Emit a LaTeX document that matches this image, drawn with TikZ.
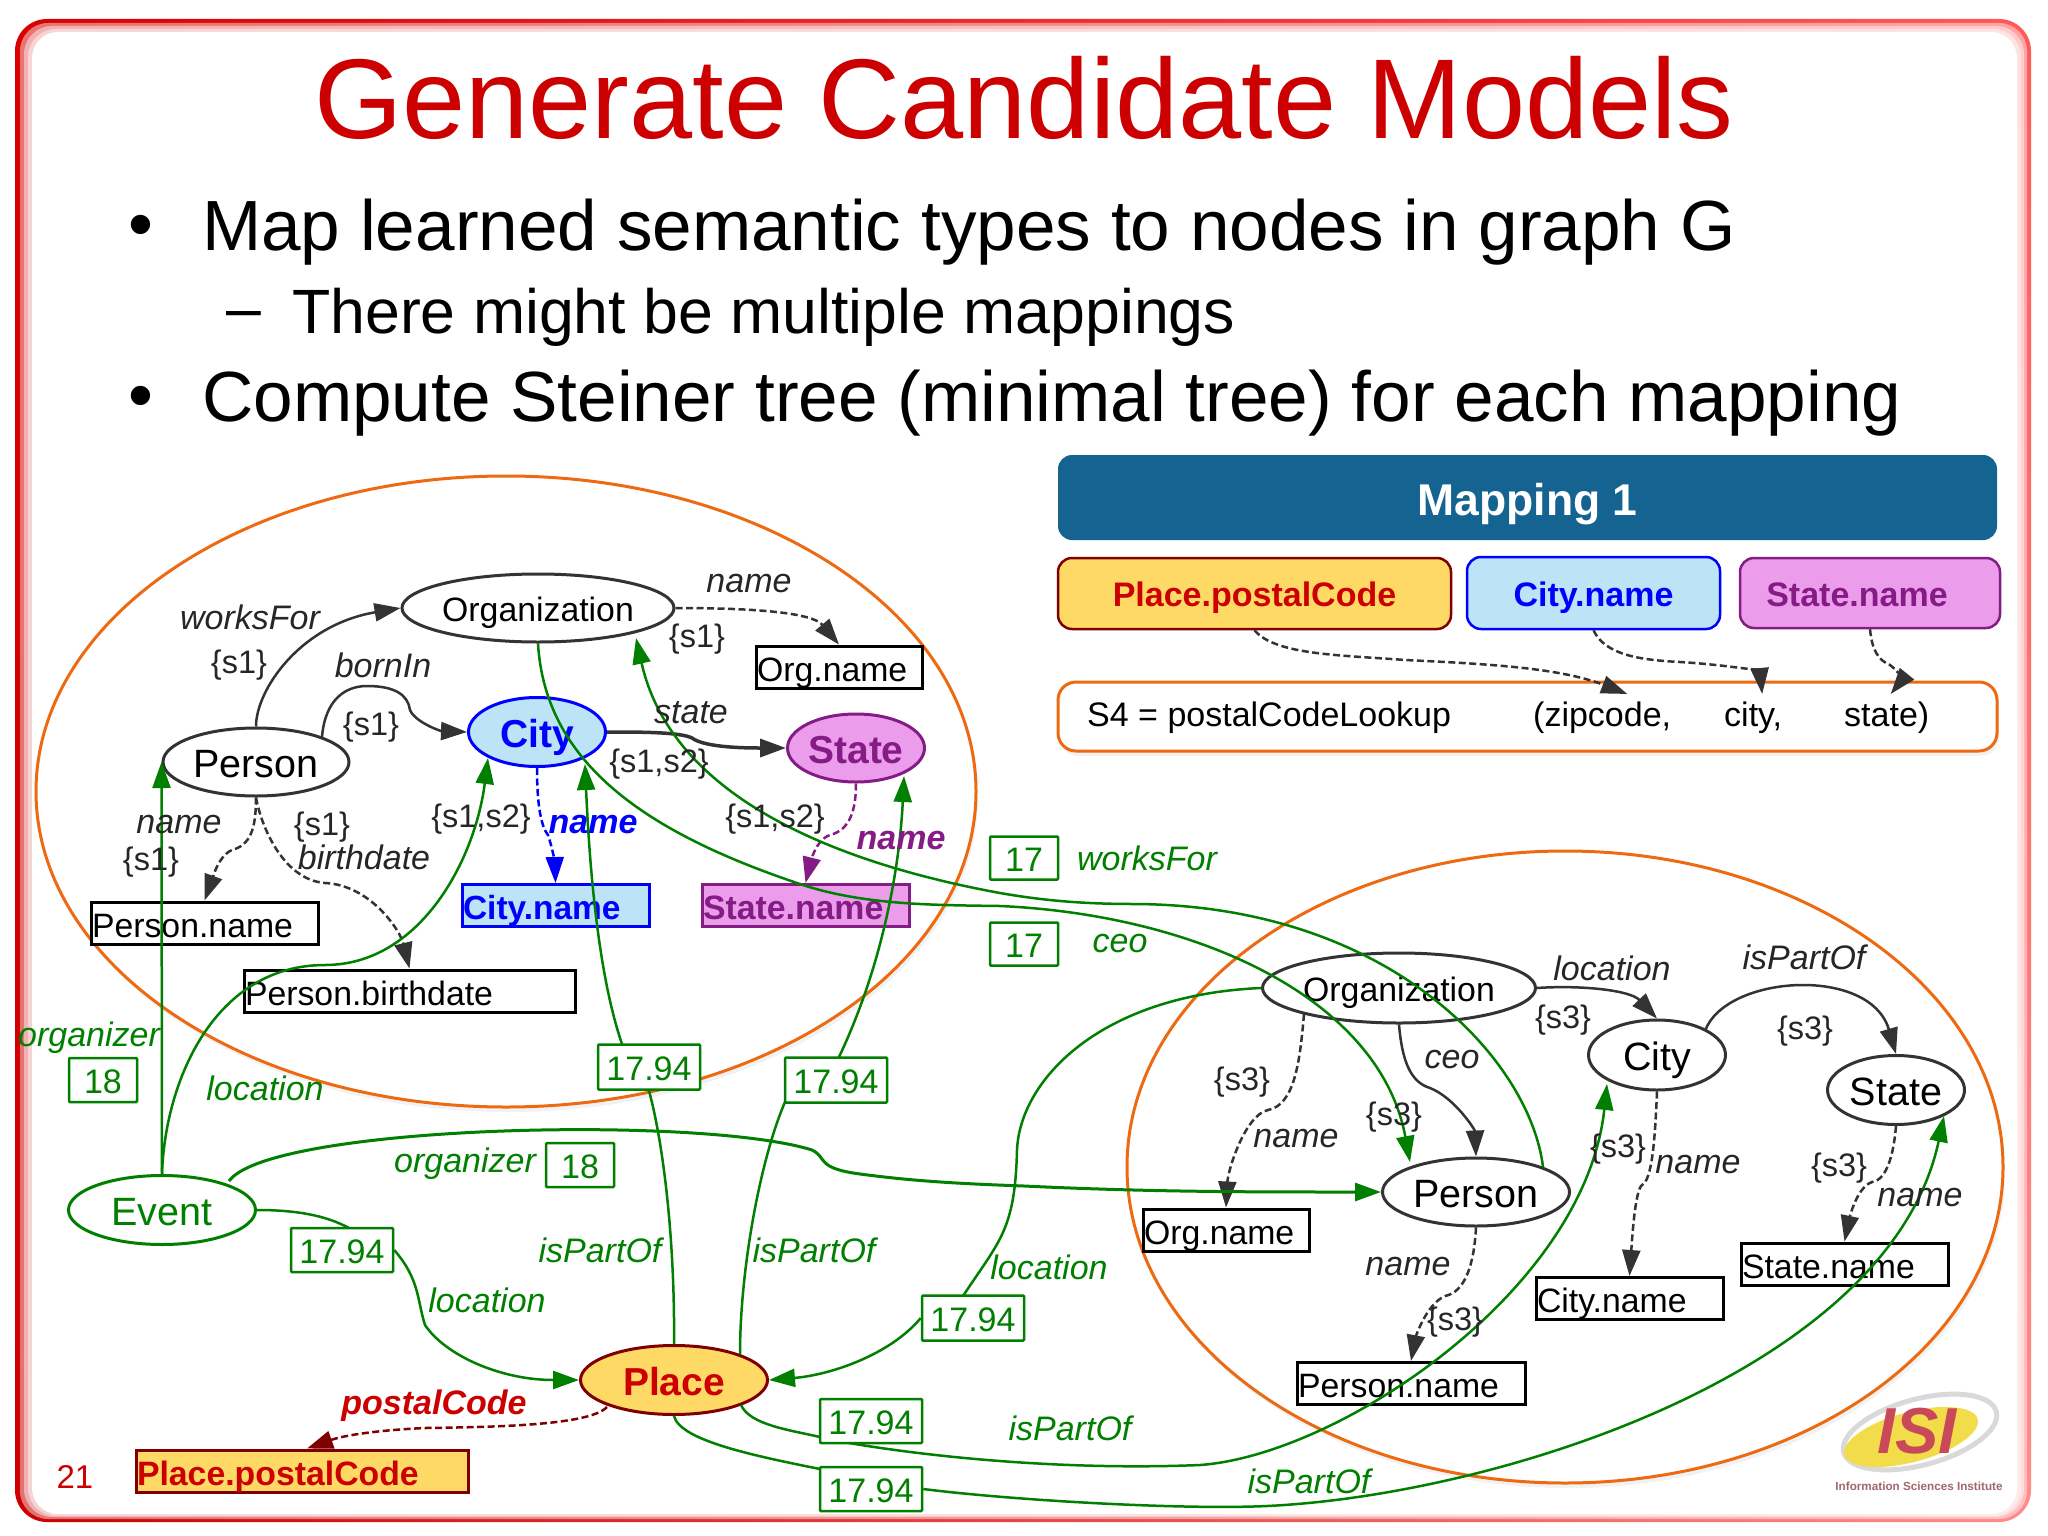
\documentclass[tikz,border=0pt]{standalone}
\usepackage{fontspec}
\setmainfont{Liberation Sans}
\usetikzlibrary{arrows.meta,shapes.geometric,shadows,shadings}
\definecolor{ptgreen}{HTML}{007F00}
\definecolor{ptdark}{HTML}{333333}
\definecolor{ptorange}{HTML}{ED6A12}
\definecolor{pthead}{HTML}{156391}
\definecolor{ptyellow}{HTML}{FFD966}
\definecolor{ptblue}{HTML}{BDE3F7}
\definecolor{ptpink}{HTML}{EB9DEB}
\definecolor{ptpurple}{HTML}{851C85}
\definecolor{ptmaroon}{HTML}{7F0000}
\definecolor{ptred}{HTML}{CC0000}
\definecolor{ptlogo}{HTML}{C9485A}
\definecolor{ptlogoy}{HTML}{F2DC4A}
\newcommand{\fsz}[1]{\fontsize{#1}{#1}\selectfont}

\begin{document}
\begin{tikzpicture}[
  x=1pt, y=-1pt,
  >={Stealth[inset=0pt,length=26pt,width=18pt]},
  oval/.style={ellipse, draw=ptorange, line width=3pt, fill=white, inner sep=0pt,
    drop shadow={opacity=.1,shadow xshift=2pt,shadow yshift=-5pt}},
  cls/.style={ellipse, draw=ptdark, line width=3pt, inner sep=0pt, fill=white, font=\fsz{33.8},
    text height=30pt, text depth=4pt},
  clsbig/.style={cls, font=\fsz{39.5}, text height=34pt, text depth=4pt},
  attr/.style={draw=black, line width=3pt, inner sep=1pt, align=left, font=\fsz{33.8}, fill=white,
    minimum height=42pt, text height=30pt, text depth=2pt},
  cost/.style={draw=ptgreen, line width=2.5pt, rounded corners=1pt, fill=white, text=ptgreen,
    font=\fsz{34}, inner sep=0pt, text height=28pt, text depth=2pt},
  mapbox/.style={draw, line width=2.5pt, rounded corners=14pt, inner sep=0pt, font=\bfseries\fsz{34},
    text height=29pt, text depth=3pt},
  lab/.style={font=\itshape\fsz{34}, text=black!85, inner sep=0pt},
  glab/.style={lab, text=ptgreen},
  setl/.style={font=\fsz{32.5}, text=black!85, inner sep=0pt, yshift=-3pt},
  sig/.style={font=\fsz{34}, inner sep=0pt, anchor=west},
  bul/.style={font=\fsz{71.1}, inner sep=0pt, anchor=west},
  subl/.style={bul, font=\fsz{62.6}},
  link/.style={draw=ptdark, line width=2.5pt, ->},
  dlink/.style={link, dashed, dash pattern=on 7pt off 3.5pt},
  glink/.style={draw=ptgreen, line width=2.5pt},
  gedge/.style={glink, ->}
]
  \useasboundingbox (0,0) rectangle (2048,1536);

  % frame
  \fill[white] (0,0) rectangle (2048,1536);
  \shade[rounded corners=32pt, upper left=red!85!black, lower left=red!80!black,
    upper right=red!65!white, lower right=red!45!white] (15,19) rectangle (2031,1522);
  \foreach \l/\t/\r/\b in {20/23/2027/1519,24/26/2024/1517,28/29/2021/1516}
    \fill[white, opacity=.45, rounded corners=28pt] (\l,\t) rectangle (\r,\b);
  \fill[white, rounded corners=26pt] (32,32) rectangle (2017,1514);

  % slide text
  \node[font=\fsz{113.5}, text=ptred, inner sep=0pt] (title) at (1024,98) {Generate Candidate Models};
  \node[bul] (dot1) at (128,232) {•};
  \node[bul] (line1) at (202,232) {Map learned semantic types to nodes in graph G};
  \node[subl] (dash1) at (226,321) {–};
  \node[subl] (line2) at (292,317) {There might be multiple mappings};
  \node[bul] (dot2) at (128,403) {•};
  \node[bul] (line3) at (202,403) {Compute Steiner tree (minimal tree) for each mapping};

  % mapping panel
  \node[fill=pthead, rounded corners=14pt, text=white, font=\bfseries\fsz{44.5}, text height=40pt, text depth=4pt,
    minimum width=939pt, minimum height=85pt, inner sep=0pt] (head) at (1527.5,497.5) {Mapping 1};
  \node[mapbox, draw=ptmaroon, fill=ptyellow, text=ptred, minimum width=393pt, minimum height=71pt] (mplace) at (1254.5,593.5) {Place.postalCode};
  \node[mapbox, draw=blue, fill=ptblue, text=blue, minimum width=253pt, minimum height=72pt] (mcity) at (1593.5,593) {City.name};
  \node[mapbox, draw=ptpurple, fill=ptpink, text=ptpurple, minimum width=260pt, minimum height=70pt] (mstate) at (1870,593) {State.name\hspace*{26pt}\mbox{}};
  \node[draw=ptorange, line width=3pt, rounded corners=18pt, fill=white, minimum width=939pt, minimum height=69pt,
    drop shadow={opacity=.1,shadow xshift=2pt,shadow yshift=-5pt}] (svc) at (1527.5,716.5) {};
  \node[sig] (sname) at (1087,718) {S4 = postalCodeLookup};
  \node[sig] (szip) at (1533,718) {(zipcode,};
  \node[sig] (scity) at (1724,718) {city,};
  \node[sig] (sstate) at (1844,718) {state)};

  \draw[dlink] (mplace.south) .. controls (1275,655) and (1340,655) .. (1405,660)
    .. controls (1490,664) and (1560,668) .. ([xshift=25pt,yshift=8pt]szip.north);
  \draw[dlink] (mcity.south) .. controls (1605,655) and (1640,660) .. (1680,662)
    .. controls (1730,665) and (1760,672) .. ([xshift=9pt,yshift=8pt]scity.north);
  \draw[dlink] (mstate.south) .. controls (1872,650) and (1878,660) .. (1890,665)
    .. controls (1897,670) and (1902,680) .. ([xshift=4pt,yshift=8pt]sstate.north);

  % large ovals
  \node[oval, minimum width=940pt, minimum height=631pt] (ovall) at (506,791.5) {};
  \node[oval, minimum width=876pt, minimum height=632pt] (ovalr) at (1565,1167) {};

  % left graph
  \node[cls, minimum width=272pt, minimum height=68pt] (org) at (538,608) {Organization};
  \node[clsbig, minimum width=186pt, minimum height=68pt] (person) at (256,762) {Person};
  \node[clsbig, draw=blue, fill=ptblue, text=blue, font=\bfseries\fsz{39}, minimum width=137pt, minimum height=69pt] (city) at (537,732) {City};
  \node[clsbig, draw=ptpurple, fill=ptpink, text=ptpurple, font=\bfseries\fsz{39}, minimum width=137pt, minimum height=68pt] (state) at (856,748) {State};
  \node[attr, text width=164pt] (orgname) at (839,667) {Org.name};
  \node[attr, text width=225pt] (personname) at (204.5,923) {Person.name};
  \node[attr, text width=329pt] (personbirth) at (409.5,991) {Person.birthdate};
  \node[attr, draw=blue, fill=ptblue, text=blue, font=\bfseries\fsz{33.5}, text width=185pt] (cityname) at (555.5,905.5) {City.name};
  \node[attr, draw=ptpurple, fill=ptpink, text=ptpurple, font=\bfseries\fsz{33.8}, text width=205pt] (statename) at (805.5,905.5) {State.name};

  % right graph
  \node[cls, minimum width=273pt, minimum height=70pt] (rorg) at (1399,988) {Organization};
  \node[clsbig, minimum width=137pt, minimum height=70pt] (rcity) at (1657,1055) {City};
  \node[clsbig, minimum width=137pt, minimum height=69pt] (rstate) at (1896,1090) {State};
  \node[clsbig, minimum width=187pt, minimum height=68pt] (rperson) at (1476,1192) {Person};
  \node[attr, text width=164pt] (rorgname) at (1226,1230) {Org.name};
  \node[attr, text width=185pt] (rcityname) at (1629.5,1298.5) {City.name};
  \node[attr, text width=205pt] (rstatename) at (1844.5,1264) {State.name};
  \node[attr, text width=226pt] (rpersonname) at (1411,1383.5) {Person.name};

  % event and place
  \node[clsbig, draw=ptgreen, text=ptgreen, minimum width=187pt, minimum height=69pt] (event) at (162,1210) {Event};
  \node[clsbig, draw=ptmaroon, fill=ptyellow, text=ptred, font=\bfseries\fsz{39}, minimum width=187pt, minimum height=69pt] (place) at (674,1380) {Place};
  \node[attr, draw=ptmaroon, fill=ptyellow, text=ptred, font=\bfseries\fsz{33.8}, text width=330pt] (placecode) at (302,1471) {Place.postalCode};
  \node[text=ptred, font=\fsz{33}, inner sep=0pt] (pagenum) at (75,1477) {21};

  % weights
  \node[cost, minimum width=68pt, minimum height=44pt] (w18a) at (103,1080) {18};
  \node[cost, minimum width=68pt, minimum height=44pt] (w18b) at (580,1165) {18};
  \node[cost, minimum width=68pt, minimum height=43pt] (w17a) at (1024,858) {17};
  \node[cost, minimum width=68pt, minimum height=43pt] (w17b) at (1024,944) {17};
  \node[cost, minimum width=102pt, minimum height=45pt] (wcity) at (649,1067) {17.94};
  \node[cost, minimum width=102pt, minimum height=45pt] (wstate) at (836,1080) {17.94};
  \node[cost, minimum width=102pt, minimum height=44pt] (wevent) at (342,1250) {17.94};
  \node[cost, minimum width=102pt, minimum height=45pt] (wrorg) at (973,1318) {17.94};
  \node[cost, minimum width=102pt, minimum height=44pt] (wrcity) at (871,1421) {17.94};
  \node[cost, minimum width=102pt, minimum height=44pt] (wrstate) at (871,1489) {17.94};

  % black edges, left
  \draw[link] (person.north) .. controls (256,690) and (300,625) .. (org.west);
  \draw[link] (322,737) .. controls (325,700) and (345,686) .. (367,686)
    .. controls (395,686) and (408,695) .. (410,710) .. controls (415,722) and (440,731) .. (city.west);
  \draw[link, line width=3.5pt] (city.east) .. controls (640,732) and (680,732) .. (692,738)
    .. controls (705,748) and (750,748) .. (state.west);
  \draw[dlink] (org.east) .. controls (730,608) and (810,610) .. (orgname.north);
  \draw[dlink] (person.south) .. controls (256,830) and (250,845) .. (232,850)
    .. controls (218,856) and (212,880) .. (personname.north);
  \draw[dlink] (person.south) .. controls (262,830) and (285,880) .. (325,883)
    .. controls (370,885) and (400,930) .. (personbirth.north);
  \draw[dlink, draw=blue] (city.south) .. controls (537,800) and (540,825) .. (548,835)
    .. controls (553,850) and (555,865) .. (cityname.north);
  \draw[dlink, draw=ptpurple] (state.south) .. controls (856,810) and (850,830) .. (830,835)
    .. controls (815,840) and (810,865) .. (statename.north);

  % black edges, right
  \draw[link] (rorg.east) .. controls (1580,985) and (1630,990) .. (rcity.north);
  \draw[link] (1705,1031) .. controls (1725,975) and (1870,965) .. (rstate.north);
  \draw[link] (rorg.south) .. controls (1402,1060) and (1410,1082) .. (1430,1088)
    .. controls (1455,1098) and (1475,1130) .. (rperson.north);
  \draw[dlink] (1304,1014) .. controls (1300,1060) and (1295,1105) .. (1268,1110)
    .. controls (1245,1115) and (1228,1170) .. (rorgname.north);
  \draw[dlink] (rcity.south) .. controls (1655,1140) and (1652,1180) .. (1642,1185)
    .. controls (1635,1190) and (1632,1240) .. (rcityname.north);
  \draw[dlink] (rstate.south) .. controls (1894,1150) and (1888,1180) .. (1872,1182)
    .. controls (1855,1188) and (1848,1225) .. (rstatename.north);
  \draw[dlink] (rperson.south) .. controls (1474,1265) and (1465,1292) .. (1445,1296)
    .. controls (1425,1305) and (1415,1340) .. (rpersonname.north);

  % place attribute
  \draw[dlink, draw=ptmaroon] (607,1407) .. controls (590,1425) and (500,1427) .. (425,1428)
    .. controls (380,1430) and (345,1435) .. ([xshift=5pt]placecode.north);

  % green edges
  \draw[gedge] (event.north) -- (person.west);
  \draw[gedge] (event.north) .. controls (165,1080) and (215,965) .. (325,965)
    .. controls (420,965) and (475,860) .. (488,758);
  \draw[gedge] (org.south) .. controls (545,760) and (640,830) .. (797,883)
    .. controls (860,905) and (930,905) .. (1000,906)
    .. controls (1200,915) and (1380,1000) .. (1410,1162);
  \draw[gedge] (1543,1167) .. controls (1530,1060) and (1390,905) .. (1134,904)
    .. controls (1080,904) and (1040,900) .. (1000,893)
    .. controls (820,860) and (670,790) .. (636,638);
  \draw[glink] (place.north) .. controls (675,1250) and (665,1150) .. (wcity.south);
  \draw[gedge] (622,1044) .. controls (600,980) and (590,880) .. (585,764);
  \draw[glink] (740,1354) .. controls (740,1270) and (760,1160) .. (785,1102);
  \draw[gedge] (839,1057) .. controls (885,960) and (900,860) .. (904,776);
  \draw[glink] (event.east) .. controls (295,1210) and (325,1215) .. (349,1228);
  \draw[gedge] (wevent.east) .. controls (420,1280) and (417,1300) .. (425,1325)
    .. controls (445,1355) and (500,1380) .. (place.west);
  \draw[gedge, line width=3pt] (229,1181) .. controls (270,1125) and (700,1115) .. (812,1150)
    .. controls (828,1158) and (815,1168) .. (860,1174)
    .. controls (920,1182) and (970,1184) .. (1024,1186)
    .. controls (1150,1192) and (1250,1192) .. (rperson.west);
  \draw[glink] (rorg.west) .. controls (1100,995) and (1020,1080) .. (1017,1150)
    .. controls (1015,1230) and (1000,1240) .. (963,1296);
  \draw[gedge] (wrorg.west) .. controls (890,1355) and (830,1375) .. (place.east);
  \draw[glink] (741,1405) .. controls (750,1425) and (790,1430) .. (820,1437);
  \draw[gedge] (849,1443) .. controls (950,1460) and (1080,1470) .. (1200,1465)
    .. controls (1340,1455) and (1585,1290) .. (1607,1084);
  \draw[glink] (place.south) .. controls (680,1440) and (750,1455) .. (820,1469);
  \draw[gedge] (wrstate.east) .. controls (1010,1500) and (1180,1510) .. (1267,1506)
    .. controls (1500,1495) and (1890,1370) .. (1944,1116);

  % labels, left
  \node[lab] (lworks) at (250,617) {worksFor};
  \node[setl] (s1a) at (239,662) {\{s1\}};
  \node[lab] (lborn) at (383,665) {bornIn};
  \node[setl] (s1b) at (371,724) {\{s1\}};
  \node[lab] (lorgn) at (749,584) {name};
  \node[setl] (s1c) at (697,636) {\{s1\}};
  \node[lab] (lstate) at (691,713) {state};
  \node[setl] (s12a) at (659,761) {\{s1,s2\}};
  \node[setl] (s12b) at (481,816) {\{s1,s2\}};
  \node[lab, text=blue, font=\bfseries\itshape\fsz{34}] (lcity) at (593,825) {name};
  \node[setl] (s12c) at (775,816) {\{s1,s2\}};
  \node[lab, text=ptpurple, font=\bfseries\itshape\fsz{34}] (lstatn) at (901,841) {name};
  \node[lab] (lpers) at (179,825) {name};
  \node[setl] (s1d) at (151,859) {\{s1\}};
  \node[setl] (s1e) at (322,824) {\{s1\}};
  \node[lab] (lbirth) at (364,857) {birthdate};

  % labels, green
  \node[glab] (lorga) at (89,1038) {organizer};
  \node[glab] (lloca) at (265,1088) {location};
  \node[glab] (lorgb) at (465,1164) {organizer};
  \node[glab] (lparta) at (600,1250) {isPartOf};
  \node[glab] (lpartb) at (814,1250) {isPartOf};
  \node[glab] (llocb) at (487,1300) {location};
  \node[glab] (llocc) at (1049,1267) {location};
  \node[glab] (lpartc) at (1070,1428) {isPartOf};
  \node[glab] (lpartd) at (1309,1481) {isPartOf};
  \node[glab] (lworksr) at (1147,858) {worksFor};
  \node[glab] (lceo) at (1120,944) {ceo};
  \node[lab, text=ptred, font=\bfseries\itshape\fsz{34}] (lcode) at (434,1406) {postalCode};

  % labels, right
  \node[lab] (rlloc) at (1612,968) {location};
  \node[lab] (rlpart) at (1804,957) {isPartOf};
  \node[setl] (s3a) at (1563,1017) {\{s3\}};
  \node[setl] (s3b) at (1805,1028) {\{s3\}};
  \node[setl] (s3c) at (1242,1079) {\{s3\}};
  \node[lab] (rlceo) at (1452,1060) {ceo};
  \node[setl] (s3d) at (1394,1114) {\{s3\}};
  \node[lab] (rlorg) at (1296,1139) {name};
  \node[setl] (s3e) at (1618,1146) {\{s3\}};
  \node[lab] (rlcity) at (1698,1165) {name};
  \node[setl] (s3f) at (1839,1165) {\{s3\}};
  \node[lab] (rlstate) at (1920,1198) {name};
  \node[lab] (rlpers) at (1408,1267) {name};
  \node[setl] (s3g) at (1455,1319) {\{s3\}};

  % logo
  \node[ellipse, draw=black!15, line width=5pt, rotate=15, minimum width=158pt, minimum height=66pt, inner sep=0pt] (logoring) at (1920,1432) {};
  \node[ellipse, fill=ptlogoy, rotate=15, minimum width=138pt, minimum height=50pt, inner sep=0pt] (logo) at (1911,1437) {};
  \node[text=ptlogo, font=\bfseries\itshape\fsz{65}, inner sep=0pt] (logoisi) at (1917,1431) {ISI};
  \node[text=ptlogo!45!gray, font=\bfseries\fsz{11.7}, inner sep=0pt] (logotxt) at (1919,1486) {Information Sciences Institute};
\end{tikzpicture}
\end{document}
